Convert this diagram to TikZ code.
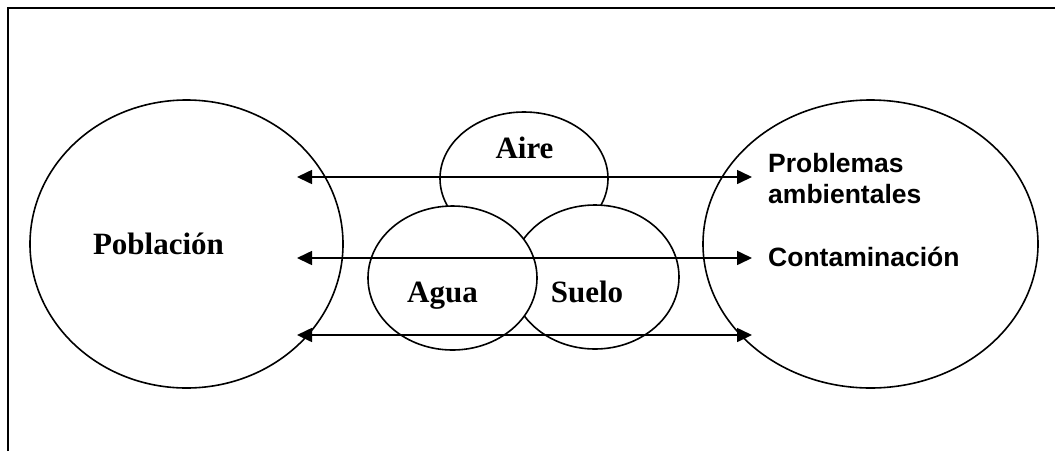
\documentclass[tikz,border=0pt]{standalone}
\usepackage{fontspec}
\setmainfont{Liberation Serif}
\newfontfamily\arialfont{Liberation Sans}
\usetikzlibrary{shapes.geometric,arrows.meta}

\begin{document}
\begin{tikzpicture}[x=1pt, y=1pt,
  blob/.style={draw=black, fill=white, ellipse, inner sep=0pt, line width=1.6pt},
  serlab/.style={font=\bfseries\fontsize{31}{36}\selectfont, inner sep=0pt, anchor=base},
  sanlab/.style={font=\arialfont\bfseries\fontsize{26.5}{30.5}\selectfont, inner sep=0pt, anchor=base west, align=left},
  link/.style={draw=black, line width=1.6pt, {Triangle[length=15pt,width=14pt]}-{Triangle[length=15pt,width=14pt]}}]
\useasboundingbox (0,0) rectangle (1055,-451);
\draw [black, line width=2.4pt] (8,-451) -- (8,-8) -- (1055,-8);
\node [blob, minimum width=168, minimum height=133] (aire) at (524,-178.5) {};
\node [blob, minimum width=168, minimum height=144] (suelo) at (595,-277) {};
\node [blob, minimum width=169, minimum height=144] (agua) at (452.5,-278) {};
\node [blob, minimum width=313, minimum height=288] (pob) at (186.5,-244) {};
\node [blob, minimum width=335, minimum height=288] (prob) at (870.5,-244) {};
\node [serlab] (airetxt) at (524.5,-158) {Aire};
\node [serlab] (aguatxt) at (442.5,-302) {Agua};
\node [serlab] (suelotxt) at (587,-302) {Suelo};
\node [serlab] (pobtxt) at (158.5,-254) {Población};
\node [sanlab] (probtxt) at (768,-203) {Problemas\\ambientales};
\node [sanlab] (contxt) at (768,-266) {Contaminación};
\coordinate (la) at (297,-177);
\coordinate (ra) at (752,-177);
\coordinate (lb) at (297,-258);
\coordinate (rb) at (752,-258);
\coordinate (lc) at (297,-335);
\coordinate (rc) at (752,-335);
\draw [link] (la) -- (ra);
\draw [link] (lb) -- (rb);
\draw [link] (lc) -- (rc);
\end{tikzpicture}
\end{document}
